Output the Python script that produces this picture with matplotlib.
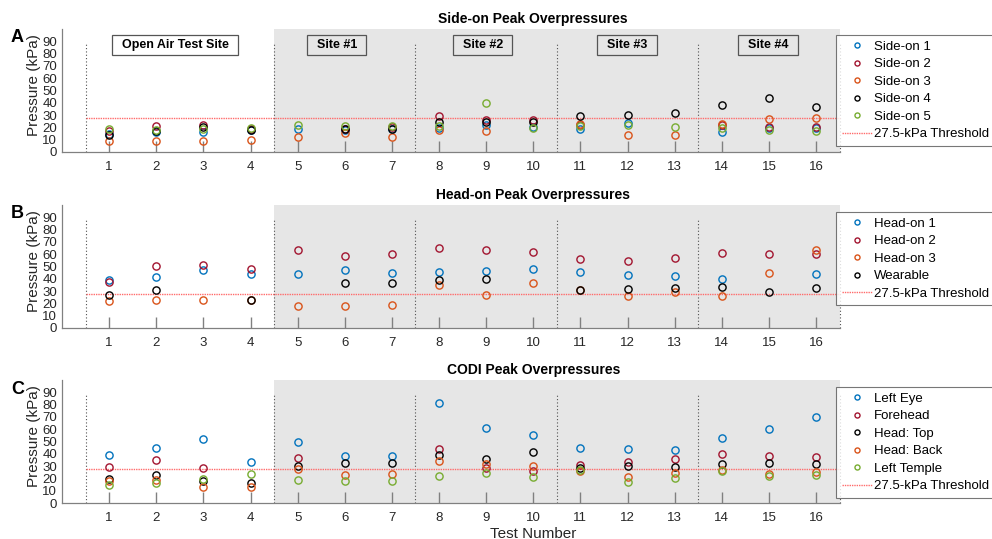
import numpy as np
import matplotlib
matplotlib.use("Agg")
import matplotlib.pyplot as plt
from matplotlib.patches import Rectangle

plt.rcParams['font.family'] = ['Liberation Sans', 'DejaVu Sans']

tests = np.arange(1, 17)
nan = np.nan

# Panel A: side-on
side_on_1 = [15, 16, 16, 17.5, 18.5, 18, 18.5, 19.6, 22.3, 20.7, 18.5, 23.7, nan, 16, 19.8, 19.3]
side_on_2 = [17, 21, 22, 19, nan, 19, 20, 29.6, 26, 26.4, 22, nan, nan, 21.7, 20.7, 20.7]
side_on_3 = [9, 9.2, 9.2, 9.5, 12, 15.5, 12.2, 18, 16.9, nan, 22.8, 13.6, 13.9, 23.1, 27.2, 27.7]
side_on_4 = [14, 17, 20, 18, nan, 18.5, 18.8, 24.2, 24.5, 24.5, 29, 29.9, 31.5, 38, 43.5, 36.7]
side_on_5 = [19, 18, 19, 19.5, 22, 21.5, 21, 21, 40.2, 19.8, 21.5, 21.8, 20.7, 19.8, 17.7, 16.9]

# Panel B: head-on
head_on_1 = [38.9, 41.3, 47.3, 44, 43.5, 46.8, 44.9, 45.4, 46.5, 47.6, 45.4, 43, 41.9, 39.7, nan, 44]
head_on_2 = [37.5, 50.6, 51.4, 47.9, 63.6, 58.2, 60.1, 64.7, 63.3, 61.7, 56, 54.4, 56.6, 60.6, 59.8, 60.1]
head_on_3 = [21.8, 23.1, 23.1, 23.1, 18.2, 18.2, 18.8, 35.3, 27.2, 36.7, 31, 25.8, 29.1, 26.4, 44.6, 63.3]
wearable = [26.6, 31, nan, 23.1, nan, 36.2, 36.2, 39.4, 40, nan, 31, 31.5, 32.4, 33.4, 29.1, 32.9]

# Panel C: CODI
left_eye = [39.3, 44.5, 51.8, 33.1, 49.6, 38.5, 38.2, 81.3, 61, 55.6, 44.5, 43.6, 43.4, 52.6, 60.5, 70.2]
forehead = [29.5, 35, 28.5, nan, 36.9, nan, nan, 44.2, 28.7, 25.8, 30.9, 33, 36, 39.8, 38, 37.1]
head_top = [19.2, 23, 17.6, 16.5, 29.8, 32.5, 32.5, 39.3, 35.5, 41.7, 28.5, 30.4, 29.3, 32, 32.5, 32]
head_back = [17.6, 18.7, 12.7, 13.3, 27.6, 22.8, 23.9, 34.2, 31.4, 30.4, 26, 21.1, 24.1, 27.1, 23.3, 25.5]
left_temple = [14.4, 16, 19.2, 23.9, 19, 18.2, 17.6, 22, 24.7, 21.4, 27, 16.8, 20, 25.8, 22, 23]

threshold = 27.5
site_bounds = [0.5, 4.5, 7.5, 10.5, 13.5, 16.5]
site_labels = ['Open Air Test Site', 'Site #1', 'Site #2', 'Site #3', 'Site #4']
site_label_x = [2.4, 5.83, 8.93, 11.99, 14.98]

BLUE, RED, ORANGE, BLACK, GREEN = '#0072BD', '#A2142F', '#D95319', '#000000', '#77AC30'

panels = [
    ('A', 'Side-on Peak Overpressures',
     [(side_on_1, 'Side-on 1', BLUE), (side_on_2, 'Side-on 2', RED), (side_on_3, 'Side-on 3', ORANGE),
      (side_on_4, 'Side-on 4', BLACK), (side_on_5, 'Side-on 5', GREEN)], 35),
    ('B', 'Head-on Peak Overpressures',
     [(head_on_1, 'Head-on 1', BLUE), (head_on_2, 'Head-on 2', RED), (head_on_3, 'Head-on 3', ORANGE),
      (wearable, 'Wearable', BLACK)], 212),
    ('C', 'CODI Peak Overpressures',
     [(left_eye, 'Left Eye', BLUE), (forehead, 'Forehead', RED), (head_top, 'Head: Top', BLACK),
      (head_back, 'Head: Back', ORANGE), (left_temple, 'Left Temple', GREEN)], 387),
]

W, H = 992, 539
fig = plt.figure(figsize=(W / 100, H / 100), dpi=100)
px_unit = 47.13
ax_left = 62
ax_w = 20 * px_unit
ax_h = 123
bottoms = [152, 328, 503]
TXT = '#262626'

for i, (letter, title, series, leg_top) in enumerate(panels):
    b = bottoms[i]
    ax = fig.add_axes([ax_left / W, (H - b) / H, ax_w / W, ax_h / H])
    ax.set_xlim(0, 20)
    ax.set_ylim(0, 100)
    ax.axvspan(4.5, 16.5, color='#E6E6E6', zorder=0, lw=0)
    for xb in site_bounds:
        ax.plot([xb, xb], [0, 88], color='#505050', ls=(0, (1.0, 2.0)), lw=0.8, zorder=1)
    handles = []
    for vals, lab, col in series:
        h, = ax.plot(tests, vals, ls='none', marker='o', ms=5.2, mfc='none', mec=col,
                     mew=1.0, label=lab, zorder=3)
        handles.append(h)
    th, = ax.plot([0.5, 16.5], [threshold, threshold], color='#FF6B6B', ls=(0, (1.0, 0.7)),
                  lw=1.0, zorder=2, label='27.5-kPa Threshold')
    handles.append(th)

    for s in ['top', 'right']:
        ax.spines[s].set_visible(False)
    for s in ['left', 'bottom']:
        ax.spines[s].set_color('#808080')
        ax.spines[s].set_linewidth(0.9)
    ax.spines['bottom'].set_bounds(0, 16.5)
    ax.set_xticks(tests)
    ax.set_yticks(np.arange(0, 100, 10))
    ax.tick_params(axis='x', direction='in', length=8, width=1.0, color='#808080',
                   labelsize=9.5, labelcolor=TXT, pad=6.5)
    ax.tick_params(axis='y', direction='in', length=0, labelsize=9.5, labelcolor=TXT, pad=3.5)
    ax.set_ylabel('Pressure (kPa)', fontsize=11, color=TXT)
    ax.yaxis.set_label_coords((41 - ax_left) / ax_w, 0.545)
    ax.set_title(title, fontsize=10, fontweight='bold', pad=4)
    fig.text(11 / W, (H - (b - 114)) / H, letter, fontsize=13, fontweight='bold', va='center', ha='left')

    leg = ax.legend(handles=handles, loc='upper left',
                    bbox_to_anchor=((836 - ax_left) / ax_w, (b - leg_top) / ax_h),
                    fontsize=9.5, frameon=True, fancybox=False, edgecolor='#555555',
                    handlelength=2.3, handletextpad=0.18, labelspacing=0.4, borderpad=0.42,
                    borderaxespad=0, markerscale=0.7)
    leg.get_frame().set_linewidth(0.8)
    leg.set_zorder(5)

    if i == 0:
        renderer = fig.canvas.get_renderer()
        inv = ax.transData.inverted()
        for lbl, xc in zip(site_labels, site_label_x):
            fc = 'white' if lbl.startswith('Open') else '#E6E6E6'
            t = ax.text(xc, 87, lbl, ha='center', va='center', fontsize=9, fontweight='bold',
                        color='black', zorder=5)
            bb = t.get_window_extent(renderer)
            (x0, _), (x1, _) = inv.transform([(bb.x0 - 9.5, 0), (bb.x1 + 9.5, 0)])
            hh = 20 / (ax_h / 100.0)
            ax.add_patch(Rectangle((x0, 87 - hh / 2), x1 - x0, hh, fc=fc, ec='#555555',
                                   lw=0.9, zorder=4))
    if i == 2:
        ax.set_xlabel('Test Number', fontsize=11, color=TXT, labelpad=2)

fig.savefig('out.png', dpi=100)
